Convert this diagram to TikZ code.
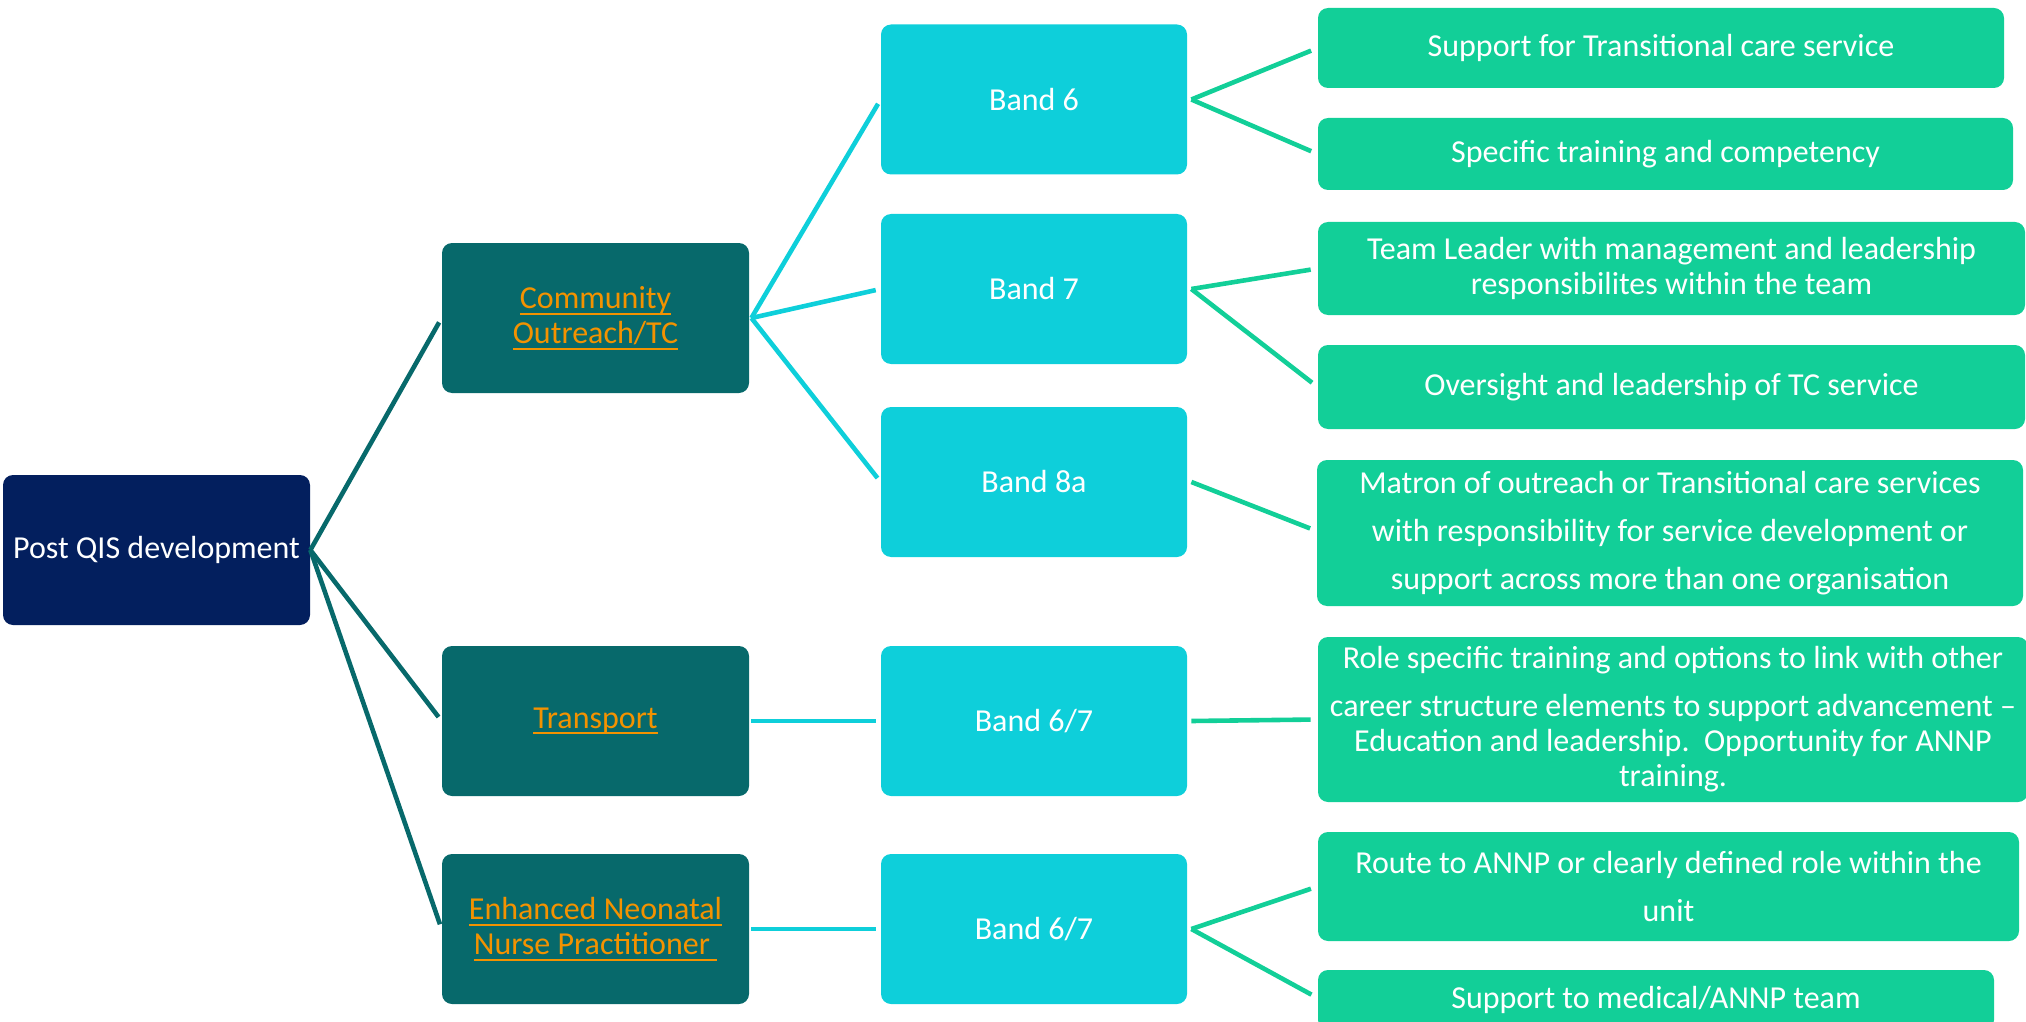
\documentclass[tikz,border=0pt]{standalone}
\usepackage{fontspec}
\setmainfont{Carlito}
\newcommand{\myul}[1]{\leavevmode\setbox0\hbox{#1}\rlap{\vrule width\wd0 height -2.2pt depth 3.2pt}\box0}
\definecolor{navy}{HTML}{031F5E}
\definecolor{tealdark}{HTML}{07696B}
\definecolor{orangetxt}{HTML}{F39200}
\definecolor{cyanbox}{HTML}{0ECFDA}
\definecolor{greenbox}{HTML}{12CF98}
\tikzset{
  box/.style={rectangle, rounded corners=5pt, inner sep=0pt, align=center, text=white,
    font=\fontsize{16}{17.5}\selectfont},
  rootbox/.style={box, fill=navy, minimum width=153.5pt, minimum height=75pt},
  lonebox/.style={box, fill=tealdark, text=orangetxt, minimum width=153.5pt, minimum height=75pt},
  ltwobox/.style={box, fill=cyanbox, minimum width=153pt, minimum height=75pt},
  lthreebox/.style={box, fill=greenbox},
  conone/.style={draw=tealdark, line width=2.3pt, shorten >=2.5pt},
  contwo/.style={draw=cyanbox, line width=2.3pt, shorten >=2.5pt},
  conthree/.style={draw=greenbox, line width=2.3pt, shorten >=3.5pt},
}
\begin{document}
\begin{tikzpicture}[x=0.5pt,y=-0.5pt]
\useasboundingbox (0,0) rectangle (2026,1022);
% root
\node[rootbox] (root) at (156.5,550) {Post QIS development};
% level 1
\node[lonebox] (comm) at (595.5,318) {\myul{Community}\\\myul{Outreach/TC}};
\node[lonebox] (trans) at (595.5,721) {\myul{Transport}};
\node[lonebox] (ennp) at (595.5,929) {\myul{Enhanced Neonatal}\\\myul{Nurse Practitioner\ }};
% level 2
\node[ltwobox] (b6) at (1034,99.5) {Band 6};
\node[ltwobox] (b7) at (1034,289) {Band 7};
\node[ltwobox] (b8) at (1034,482) {Band 8a};
\node[ltwobox] (bt) at (1034,721) {Band 6/7};
\node[ltwobox] (be) at (1034,929) {Band 6/7};
% level 3
\node[lthreebox, minimum width=343pt, minimum height=40pt] (sa) at (1661,48) {Support for Transitional care service};
\node[lthreebox, minimum width=347.5pt, minimum height=36pt] (sb) at (1665.5,154) {Specific training and competency};
\node[lthreebox, minimum width=353.5pt, minimum height=46.5pt] (ta) at (1671.5,268.5) {Team Leader with management and leadership\\responsibilites within the team};
\node[lthreebox, minimum width=353.5pt, minimum height=42pt] (tb) at (1671.5,387) {Oversight and leadership of TC service};
\node[lthreebox, minimum width=353pt, minimum height=73pt] (ma) at (1670,533) {Matron of outreach or Transitional care services\\[6.5pt]with responsibility for service development or\\[6.5pt]support across more than one organisation};
\node[lthreebox, minimum width=355pt, minimum height=82.5pt] (ro) at (1673,719.5) {Role specific training and options to link with other\\[6.5pt]career structure elements to support advancement --\\Education and leadership.\ \ Opportunity for ANNP\\training.};
\node[lthreebox, minimum width=350.5pt, minimum height=54.5pt] (ea) at (1668.5,886.5) {Route to ANNP or clearly defined role within the\\[6.5pt]unit};
\node[lthreebox, minimum width=338pt, minimum height=30pt] (eb) at (1656,1000) {Support to medical/ANNP team};
% connectors root -> level 1
\draw[conone] (root.east) -- (comm.west);
\draw[conone] (root.east) -- (trans.west);
\draw[conone] (root.east) -- (ennp.west);
% level 1 -> level 2
\draw[contwo] ([xshift=1pt]comm.east) -- (b6.west);
\draw[contwo] ([xshift=1pt]comm.east) -- (b7.west);
\draw[contwo] ([xshift=1pt]comm.east) -- (b8.west);
\draw[contwo] ([xshift=1pt]trans.east) -- (bt.west);
\draw[contwo] ([xshift=1pt]ennp.east) -- (be.west);
% level 2 -> level 3
\draw[conthree] ([xshift=2pt]b6.east) -- (sa.west);
\draw[conthree] ([xshift=2pt]b6.east) -- (sb.west);
\draw[conthree] ([xshift=2pt]b7.east) -- (ta.west);
\draw[conthree] ([xshift=2pt]b7.east) -- (tb.west);
\draw[conthree] ([xshift=2pt]b8.east) -- ([yshift=1pt]ma.west);
\draw[conthree] ([xshift=2pt]bt.east) -- (ro.west);
\draw[conthree] ([xshift=2pt]be.east) -- (ea.west);
\draw[conthree] ([xshift=2pt]be.east) -- ([yshift=1pt]eb.west);
\end{tikzpicture}
\end{document}
